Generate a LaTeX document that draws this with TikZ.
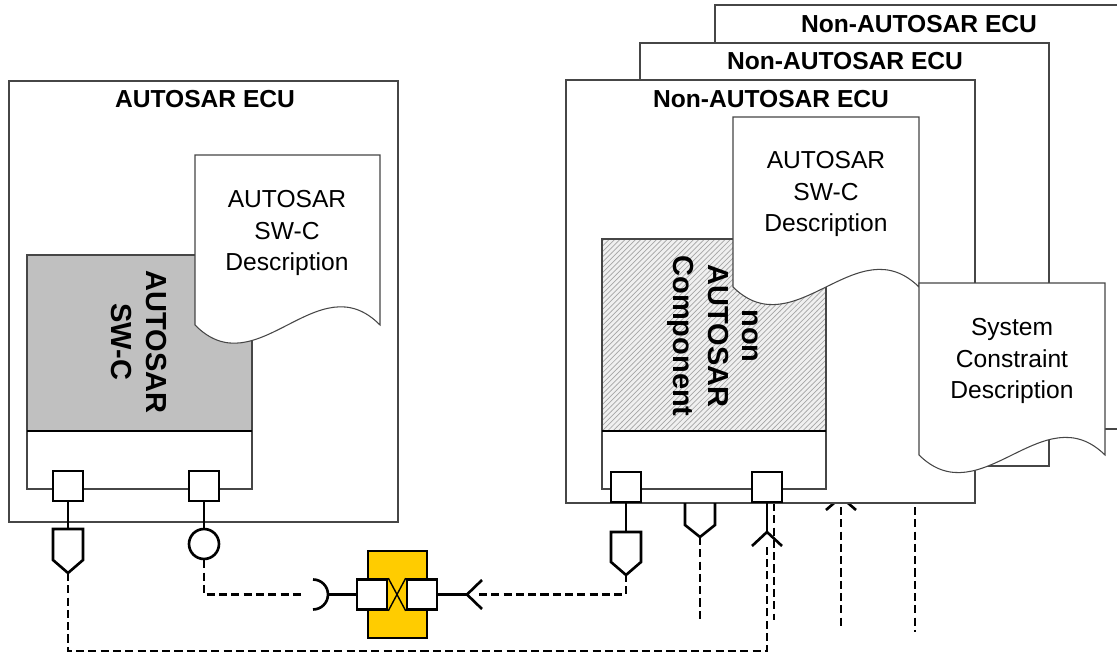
\documentclass[tikz,border=0pt]{standalone}
\usepackage{fontspec}
\setmainfont{Liberation Sans}
\usetikzlibrary{patterns}
\definecolor{swcgray}{RGB}{192,192,192}
\definecolor{portyellow}{RGB}{255,204,0}
\definecolor{edgegray}{RGB}{70,70,70}
\begin{document}
\begin{tikzpicture}[x=0.02cm,y=-0.02cm,
  frame/.style={draw=edgegray,line width=0.6pt,fill=white},
  title/.style={font=\bfseries\fontsize{14}{17}\selectfont,inner sep=0pt},
  doctext/.style={font=\fontsize{14}{18}\selectfont,align=center,inner sep=0pt},
  rottext/.style={font=\bfseries\fontsize{16.5}{19.5}\selectfont,align=center,inner sep=0pt,rotate=-90},
  portbox/.style={draw,line width=1.5pt,fill=white,minimum size=0.6cm,inner sep=0pt},
  wire/.style={line width=1.5pt},
  link/.style={line width=1.7pt,dash pattern=on 4.6pt off 2.4pt},
]
\useasboundingbox (0,0) rectangle (1117,659);
\clip (0,0) rectangle (1117,659);

% back ECUs
\draw[frame] (715,5) rectangle (1125,429);
\node[title] (t3) at (919,24) {Non-AUTOSAR ECU};
\draw[frame] (640,43) rectangle (1049,466);
\node[title] (t2) at (845,61) {Non-AUTOSAR ECU};

% connectors of back ECUs
\coordinate (chev3) at (841,497);
\coordinate (chev3end) at (841,628);
\coordinate (back2top) at (915,507);
\coordinate (back2end) at (915,632);
\coordinate (back1top) at (774,503);
\coordinate (back1end) at (774,620);
\draw[wire] (826,510) -- (chev3) -- (856,510);
\draw[link] (841,507) -- (chev3end);
\draw[link] (back2top) -- (back2end);
\draw[link] (back1top) -- (back1end);

% front non-AUTOSAR ECU
\draw[frame] (566,80) rectangle (975,503);
\node[title] (t1) at (771,99) {Non-AUTOSAR ECU};

% AUTOSAR ECU
\draw[frame] (9,81) rectangle (398,522);
\node[title] (t0) at (205,99) {AUTOSAR ECU};

% AUTOSAR SW-C
\fill[swcgray] (27,255) rectangle (252,431);
\draw[draw=edgegray,line width=0.6pt] (27,255) rectangle (252,489);
\draw[line width=1.3pt] (27,431) -- (252,431);
\node[rottext] (swc) at (139,342) {AUTOSAR\\SW-C};

% non AUTOSAR component
\fill[gray!12] (602,239) rectangle (826,431);
\fill[pattern=north east lines,pattern color=gray!70] (602,239) rectangle (826,431);
\draw[draw=edgegray,line width=0.6pt] (602,239) rectangle (826,489);
\draw[line width=1.3pt] (602,431) -- (826,431);
\node[rottext] (nac) at (713,336) {non\\AUTOSAR\\Component};

% documents
\draw[frame] (195,155) -- (380,155) -- (380,325)
  .. controls (318,262) and (257,388) .. (195,325) -- cycle;
\node[doctext] (d0) at (287,233) {AUTOSAR\\SW-C\\Description};
\draw[frame] (733,117) -- (919,117) -- (919,287)
  .. controls (857,226) and (795,348) .. (733,287) -- cycle;
\node[doctext] (d1) at (826,194) {AUTOSAR\\SW-C\\Description};
\draw[frame] (919,283) -- (1105,283) -- (1105,455)
  .. controls (1043,394) and (981,516) .. (919,455) -- cycle;
\node[doctext] (d2) at (1012,361) {System\\Constraint\\Description};

% ports on AUTOSAR SW-C
\node[portbox] (p1) at (68,486) {};
\node[portbox] (p2) at (204,486) {};
\coordinate (pv1top) at (68,529);
\coordinate (pv1tip) at (68,573);
\draw[wire,fill=white] (53,529) -- (83,529) -- (83,560) -- (pv1tip) -- (53,560) -- cycle;
\draw[wire] (p1.south) -- (pv1top);
\node[draw,circle,line width=1.5pt,minimum size=0.6cm,inner sep=0pt] (req1) at (204,544) {};
\draw[wire] (p2.south) -- (req1.north);

% ports on non AUTOSAR component
\node[portbox] (p3) at (626,487) {};
\node[portbox] (p4) at (767,487) {};
\coordinate (pv2top) at (626,532);
\coordinate (pv2tip) at (626,575);
\draw[wire,fill=white] (611,532) -- (641,532) -- (641,562) -- (pv2tip) -- (611,562) -- cycle;
\draw[wire] (p3.south) -- (pv2top);
\coordinate (chev1) at (767,532);
\coordinate (chev1end) at (767,543);
\draw[wire] (752,546) -- (chev1) -- (782,546);
\draw[wire] (p4.south) -- (chev1);

% port hanging from ECU boundary
\coordinate (pv3tip) at (700,537);
\coordinate (pv3end) at (700,622);
\draw[wire] (685,503) -- (685,525) -- (pv3tip) -- (715,525) -- (715,503);
\draw[link] (pv3tip) -- (pv3end);

% connector block
\node[draw,line width=1.5pt,fill=portyellow,minimum width=1.18cm,minimum height=1.74cm,inner sep=0pt] (conn) at (397.5,594.5) {};
\node[portbox] (lsq) at (372,594.5) {};
\node[portbox] (rsq) at (422,594.5) {};
\draw[line width=0.8pt] (lsq.north east) -- (rsq.south west);
\draw[line width=0.8pt] (lsq.south east) -- (rsq.north west);
\coordinate (sockc) at (313,594.5);
\coordinate (sockL) at (305,594.5);
\coordinate (sockR) at (328,594.5);
\draw[wire] (313,579.5) arc[start angle=90,end angle=-90,radius=0.3cm];
\draw[wire] (sockR) -- (lsq.west);
\coordinate (chev2) at (467,594.5);
\coordinate (chev2end) at (479,594.5);
\draw[wire] (rsq.east) -- (chev2);
\draw[wire] (482,580) -- (chev2) -- (482,609);

% dashed links
\draw[link] (req1.south) |- (sockL);
\draw[link] (chev2end) -| (pv2tip);
\draw[link] (pv1tip) |- (767,651) -- (chev1end);
\end{tikzpicture}
\end{document}
